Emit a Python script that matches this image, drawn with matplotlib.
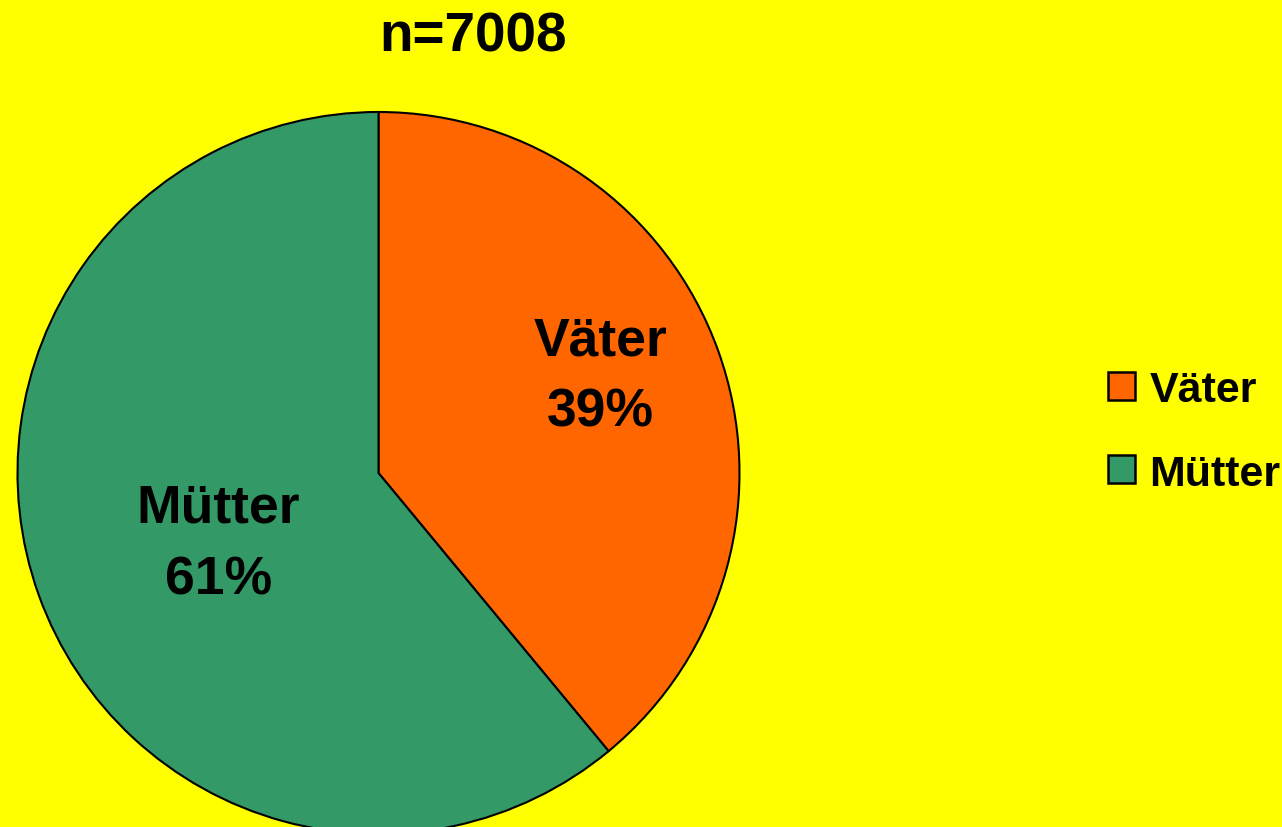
import matplotlib.pyplot as plt
from matplotlib.patches import Patch

labels = ['Väter', 'Mütter']
shares = [39, 61]
colors = ['#FF6600', '#339966']
n_total = 7008
# label centres in units of the pie radius
label_xy = [(0.615, 0.268), (-0.443, -0.195)]

plt.rcParams['font.family'] = ['Liberation Sans', 'DejaVu Sans']
plt.rcParams['font.weight'] = 'bold'

fig = plt.figure(figsize=(12.82, 8.28), dpi=100)
fig.set_facecolor('#FFFF00')

# square axes: centre (378.5,474) px, radius 361 px
cx, cy, r = 378.5, 828 - 474, 361
ax = fig.add_axes([(cx - r) / 1282, (cy - r) / 828, 2 * r / 1282, 2 * r / 828])
ax.set_facecolor('none')
wedges, _ = ax.pie(shares, colors=colors, startangle=90, counterclock=False,
                   radius=1, wedgeprops=dict(edgecolor='black', linewidth=1.5))
ax.set_xlim(-1, 1)
ax.set_ylim(-1, 1)
ax.axis('off')

for lab, val, (x, y) in zip(labels, shares, label_xy):
    ax.text(x, y, f"{lab}\n{val}%", ha='center', va='center',
            fontsize=38.5, fontweight='bold', linespacing=1.55)

fig.text(473 / 1282, 1 - 37 / 828, f"n={n_total}", ha='center', va='center',
         fontsize=39.5, fontweight='bold')

handles = [Patch(facecolor=c, edgecolor='black', linewidth=1.8) for c in colors]
fig.legend(handles, labels, loc='center left', bbox_to_anchor=(1108 / 1282, 1 - 433 / 828),
           frameon=False, fontsize=31, handlelength=0.63, handleheight=0.63,
           handletextpad=0.33, labelspacing=1.0, borderpad=0, borderaxespad=0)

fig.savefig('out.png', dpi=100, facecolor=fig.get_facecolor())
